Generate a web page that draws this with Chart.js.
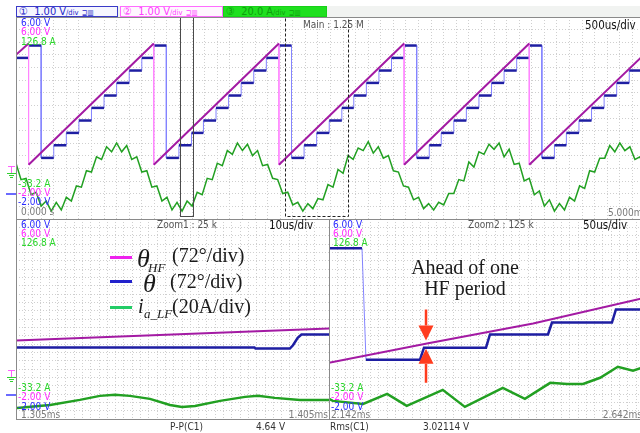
<!DOCTYPE html>
<html>
<head>
<meta charset="utf-8">
<script src="https://cdn.jsdelivr.net/npm/chart.js@4.4.1/dist/chart.umd.min.js"></script>
<style>
  html, body { margin: 0; padding: 0; width: 640px; height: 433px; overflow: hidden; background: #fff; }
  .abs { position: absolute; white-space: nowrap; }
  .osc { font-family: "DejaVu Sans Condensed", "DejaVu Sans", sans-serif; font-stretch: condensed; font-size: 10px; line-height: 10px; }
  .big { font-size: 11.5px; line-height: 12px; color: #111; }
  .b { color: #2a2aff; } .p { color: #ff2aff; } .g { color: #2ad62a; } .k { color: #7a7a7a; }
  .serif { font-family: "Liberation Serif", "DejaVu Serif", serif; color: #1a1a1a; font-size: 20px; line-height: 20px; }
  .it { font-style: italic; }
  canvas { position: absolute; display: block; }
  .frame { position: absolute; box-sizing: border-box; border: 1px solid #8a8a8a; z-index: 3; }
  .hdr { position: absolute; box-sizing: border-box; height: 11px; font-family: "DejaVu Sans Condensed", "DejaVu Sans", sans-serif; font-stretch: condensed; font-size: 11px; line-height: 9px; padding-left: 2px; white-space: nowrap; overflow: hidden; }
  .hdr small { font-size: 7.5px; }
  .mk { position: absolute; }
  .txt { z-index: 4; }
</style>
</head>
<body>

<!-- bandeau des voies -->
<div class="abs" style="left:16px;top:6px;width:624px;height:11px;background:#f1f3f1"></div>
<div class="hdr" style="left:16px;top:6px;width:102px;border:1px solid #3a3ac8;color:#2626c8;background:#f6f6ff">&#9312;&nbsp;&nbsp;1.00 V<small>/div</small> <small>&#8850;&#9637;</small></div>
<div class="hdr" style="left:120px;top:6px;width:103px;border:1px solid #ff6cff;color:#ff40ff;background:#fff6ff">&#9313;&nbsp;&nbsp;1.00 V<small>/div</small> <small>&#8850;&#9637;</small></div>
<div class="hdr" style="left:223px;top:6px;width:104px;border:1px solid #18d018;color:#0e9e0e;background:#1fe01f">&#9314;&nbsp;&nbsp;20.0 A<small>/div</small> <small>&#8850;&#9637;</small></div>

<canvas id="mainChart" width="629" height="202" style="left:16px;top:17px"></canvas>
<canvas id="zoom1Chart" width="313" height="200" style="left:16px;top:219px"></canvas>
<canvas id="zoom2Chart" width="316" height="200" style="left:329px;top:219px"></canvas>

<div class="frame" style="left:16px;top:17px;width:640px;height:203px"></div>
<div class="frame" style="left:16px;top:219px;width:314px;height:201px"></div>
<div class="frame" style="left:329px;top:219px;width:330px;height:201px"></div>

<!-- marqueurs de masse -->
<div class="mk" style="left:8px;top:166px;width:7px;height:1px;background:#ff60ff"></div>
<div class="mk" style="left:11px;top:166px;width:1px;height:7px;background:#ff60ff"></div>
<div class="mk" style="left:7px;top:173px;width:9px;height:1px;background:#30d030"></div>
<div class="mk" style="left:9px;top:175px;width:5px;height:1px;background:#30d030"></div>
<div class="mk" style="left:10px;top:177px;width:3px;height:1px;background:#30d030"></div>
<div class="mk" style="left:6px;top:193px;width:10px;height:2px;background:#6a6aff"></div>
<div class="mk" style="left:8px;top:370px;width:7px;height:1px;background:#ff60ff"></div>
<div class="mk" style="left:11px;top:370px;width:1px;height:7px;background:#ff60ff"></div>
<div class="mk" style="left:7px;top:377px;width:9px;height:1px;background:#30d030"></div>
<div class="mk" style="left:9px;top:379px;width:5px;height:1px;background:#30d030"></div>
<div class="mk" style="left:10px;top:381px;width:3px;height:1px;background:#30d030"></div>
<div class="mk" style="left:6px;top:394px;width:10px;height:2px;background:#6a6aff"></div>

<!-- textes de l'ecran principal -->
<div class="abs osc b txt" style="left:21px;top:18px">6.00 V</div>
<div class="abs osc p txt" style="left:21px;top:27px">6.00 V</div>
<div class="abs osc g txt" style="left:21px;top:37px">126.8 A</div>
<div class="abs osc g txt" style="left:18px;top:179px">-33.2 A</div>
<div class="abs osc p txt" style="left:18px;top:188px">-2.00 V</div>
<div class="abs osc b txt" style="left:18px;top:197px">-2.00 V</div>
<div class="abs osc k txt" style="left:21px;top:207px">0.000 s</div>
<div class="abs osc txt" style="left:303px;top:20px;color:#555">Main : 1.25 M</div>
<div class="abs osc big txt" style="left:585px;top:19px">500us/div</div>
<div class="abs osc k txt" style="left:608px;top:208px">5.000ms</div>

<!-- textes des zooms -->
<div class="abs osc txt" style="left:157px;top:220px;color:#555">Zoom1 : 25 k</div>
<div class="abs osc big txt" style="left:269px;top:219px">10us/div</div>
<div class="abs osc txt" style="left:468px;top:220px;color:#555">Zoom2 : 125 k</div>
<div class="abs osc big txt" style="left:583px;top:219px">50us/div</div>

<div class="abs osc b txt" style="left:21px;top:220px">6.00 V</div>
<div class="abs osc p txt" style="left:21px;top:229px">6.00 V</div>
<div class="abs osc g txt" style="left:21px;top:238px">126.8 A</div>
<div class="abs osc g txt" style="left:18px;top:383px">-33.2 A</div>
<div class="abs osc p txt" style="left:18px;top:392px">-2.00 V</div>
<div class="abs osc b txt" style="left:18px;top:402px">-2.00 V</div>
<div class="abs osc k txt" style="left:21px;top:410px">1.305ms</div>
<div class="abs osc k txt" style="right:312px;top:410px">1.405ms</div>

<div class="abs osc b txt" style="left:333px;top:220px">6.00 V</div>
<div class="abs osc p txt" style="left:333px;top:229px">6.00 V</div>
<div class="abs osc g txt" style="left:333px;top:238px">126.8 A</div>
<div class="abs osc g txt" style="left:331px;top:383px">-33.2 A</div>
<div class="abs osc p txt" style="left:331px;top:392px">-2.00 V</div>
<div class="abs osc b txt" style="left:331px;top:402px">-2.00 V</div>
<div class="abs osc k txt" style="left:331px;top:410px">2.142ms</div>
<div class="abs osc k txt" style="right:-2px;top:410px">2.642ms</div>

<!-- mesures -->
<div class="abs osc txt" style="left:170px;top:422px;color:#333">P-P(C1)</div>
<div class="abs osc txt" style="left:256px;top:422px;color:#333">4.64 V</div>
<div class="abs osc txt" style="left:330px;top:422px;color:#333">Rms(C1)</div>
<div class="abs osc txt" style="left:423px;top:422px;color:#333">3.02114 V</div>

<!-- legende -->
<div class="abs txt" style="left:110px;top:256px;width:22px;height:3px;background:#ee22ee"></div>
<div class="abs serif it txt" style="left:137px;top:246px;font-size:26px;line-height:26px">&theta;</div>
<div class="abs serif it txt" style="left:148px;top:261px;font-size:13px;line-height:14px">HF</div>
<div class="abs serif txt" style="left:172px;top:245px">(72&deg;/div)</div>

<div class="abs txt" style="left:110px;top:280px;width:22px;height:3px;background:#2222cc"></div>
<div class="abs serif it txt" style="left:143px;top:271px;font-size:26px;line-height:26px">&theta;</div>
<div class="abs serif txt" style="left:170px;top:271px">(72&deg;/div)</div>

<div class="abs txt" style="left:110px;top:306px;width:22px;height:3px;background:#22cc66"></div>
<div class="abs serif it txt" style="left:138px;top:296px">i</div>
<div class="abs serif it txt" style="left:144px;top:307px;font-size:13px;line-height:14px">a_LF</div>
<div class="abs serif txt" style="left:172px;top:296px">(20A/div)</div>

<div class="abs serif txt" style="left:395px;top:257px;width:140px;text-align:center">Ahead of one</div>
<div class="abs serif txt" style="left:395px;top:278px;width:140px;text-align:center">HF period</div>

<script>
(function () {
  // ---- ecran principal (0 - 5 ms) ----
  // theta_HF : sommets de la rampe (ms, V)
  const mainPinkT = [0, 0.10, 0.10, 1.095, 1.095, 2.09, 2.09, 3.085, 3.085, 4.08, 4.08, 5.0];
  const mainPinkV = [4.50, 4.95, 0.15, 4.95, 0.15, 4.95, 0.15, 4.95, 0.15, 4.95, 0.15, 4.55];

  // theta : instants des marches et niveau apres chaque marche
  const mainBlueT = [0, 0.10, 0.20, 0.30, 0.40, 0.50, 0.60, 0.70, 0.80, 0.90, 1.00,
    1.095, 1.195, 1.295, 1.395, 1.49, 1.59, 1.69, 1.79, 1.89, 1.99,
    2.09, 2.19, 2.29, 2.39, 2.49, 2.59, 2.685, 2.785, 2.885, 2.985,
    3.085, 3.185, 3.285, 3.38, 3.48, 3.58, 3.68, 3.78, 3.88, 3.98,
    4.08, 4.18, 4.28, 4.375, 4.475, 4.575, 4.675, 4.775, 4.875, 4.975];
  const mainBlueV = [4.38, 4.87, 0.42, 0.92, 1.41, 1.90, 2.40, 2.89, 3.39, 3.88, 4.38,
    4.87, 0.42, 0.92, 1.41, 1.90, 2.40, 2.89, 3.39, 3.88, 4.38,
    4.87, 0.42, 0.92, 1.41, 1.90, 2.40, 2.89, 3.39, 3.88, 4.38,
    4.87, 0.42, 0.92, 1.41, 1.90, 2.40, 2.89, 3.39, 3.88, 4.38,
    4.87, 0.42, 0.92, 1.41, 1.90, 2.40, 2.89, 3.39, 3.88, 4.38];
  const MAIN_END = 5.0;

  // i_a_LF : un point toutes les 0.04 ms (A)
  const CUR_STEP = 0.04;
  const mainCurA = [
    11, -2, -1, -14, -12, -23, -19, -27, -20, -26, -16, -19, -7, -8, 5, 4, 16, 14, 24, 20, 27, 20, 25, 14, 16,
    4, 5, -8, -7, -19, -16, -26, -20, -27, -19, -23, -12, -14, -1, -2, 11, 9, 21, 18, 27, 21, 26, 17, 21, 9,
    10, -1, -2, -13, -12, -22, -20, -27, -21, -25, -17, -18, -6, -8, 6, 3, 17, 14, 23, 21, 28, 19, 24, 15, 17,
    5, 4, -7, -8, -18, -16, -25, -21, -26, -20, -22, -13, -13, -2, -3, 12, 8, 20, 18, 26, 22, 27, 16, 22, 10,
    11, -3, -1, -14, -11, -23, -18, -27, -21, -26, -16, -19, -7, -9, 5, 4, 15, 15, 25, 20, 27, 21, 24, 14, 16,
    4];

  // fenetres de zoom (ms)
  const zoom1Win = [1.305, 1.405];
  const zoom2Win = [2.142, 2.642];

  // ---- Zoom1 (1.305 - 1.405 ms) ----
  const z1PinkT = [1.305, 1.355, 1.405];
  const z1PinkV = [1.14, 1.38, 1.62];
  const z1BlueT = [1.305, 1.3812, 1.3815, 1.3925, 1.3935, 1.3950, 1.3962, 1.405];
  const z1BlueV = [0.86, 0.86, 0.82, 0.82, 0.95, 1.25, 1.38, 1.38];
  const z1CurT = [1.3053, 1.3159, 1.3254, 1.3318, 1.3366, 1.3414, 1.3478, 1.3542, 1.3580, 1.3622, 1.3702, 1.3782, 1.3823, 1.3877, 1.3957, 1.405];
  const z1CurA = [-24.4, -22.0, -17.9, -14.7, -13.9, -14.7, -17.1, -22.0, -23.6, -22.8, -18.7, -15.5, -14.7, -16.3, -17.9, -17.9];

  // ---- Zoom2 (2.142 - 2.642 ms) ----
  const z2PinkT = [2.142, 2.297, 2.465, 2.642];
  const z2PinkV = [0.25, 1.02, 1.82, 2.85];
  const z2BlueT = [2.142, 2.1942, 2.2005, 2.286, 2.2923, 2.3904, 2.3967, 2.4885, 2.4948, 2.5897, 2.596, 2.642];
  const z2BlueV = [4.83, 4.83, 0.37, 0.37, 0.855, 0.855, 1.38, 1.38, 1.86, 1.86, 2.38, 2.38];
  const z2CurT = [2.142, 2.148, 2.196, 2.234, 2.265, 2.322, 2.357, 2.417, 2.452, 2.492, 2.519, 2.544, 2.571, 2.599, 2.623, 2.642];
  const z2CurA = [-17.1, -18.7, -21.1, -13.1, -22.7, -9.9, -23.5, -8.3, -17.1, -4.3, -5.1, -5.1, -0.2, 8.6, 5.4, 8.6];

  // fleches rouges (ms, V)
  const arrowT = 2.2955;
  const arrowDown = [2.38, 1.14];
  const arrowUp = [-0.55, 0.81];

  const PINK = '#a31aa3', PINK_LIGHT = '#ff86ff';
  const BLUE = '#1e1ea2', BLUE_LIGHT = '#8484ff';
  const GREEN = '#22a022';
  const GRID = '#cfcfcf';
  const RED = '#ff3c1e';

  function pts(ts, vs) {
    return ts.map((t, i) => ({ x: t, y: vs[i] }));
  }

  function steps(ts, vs, tEnd) {
    const out = [];
    ts.forEach((t, i) => {
      if (i > 0) out.push({ x: t, y: vs[i - 1] });
      out.push({ x: t, y: vs[i] });
    });
    out.push({ x: tEnd, y: vs[vs.length - 1] });
    return out;
  }

  // segments quasi verticaux = traces fins et clairs
  function isJump(c) {
    const dx = c.p1.parsed.x - c.p0.parsed.x;
    const dy = c.p1.parsed.y - c.p0.parsed.y;
    return dx === 0 || Math.abs(dy / dx) > 300;
  }

  function traceSet(data, color, light, width) {
    return [
      { data, borderColor: color, borderWidth: width, pointRadius: 0, tension: 0, yAxisID: 'y',
        segment: { borderColor: c => isJump(c) ? 'transparent' : color } },
      { data, borderColor: light, borderWidth: 1, pointRadius: 0, tension: 0, yAxisID: 'y',
        segment: { borderColor: c => isJump(c) ? light : 'transparent' } }
    ];
  }

  function current(data, width) {
    return { data, borderColor: GREEN, borderWidth: width, pointRadius: 0, tension: 0, yAxisID: 'yA' };
  }

  function oscChart(id, xMin, xMax, gridX, gridY, datasets, plugins) {
    const cv = document.getElementById(id);
    const gridAxis = (pos, max, step) => ({
      type: 'linear', position: pos, min: 0, max: max, reverse: pos === 'left',
      ticks: { display: false, stepSize: step },
      grid: { color: GRID, lineWidth: 1, drawTicks: false },
      border: { display: false, dash: [1, 2] },
      afterFit: s => { if (pos === 'left') s.width = 0; else s.height = 0; }
    });
    return new Chart(cv, {
      type: 'line',
      data: { datasets },
      options: {
        responsive: false,
        animation: false,
        devicePixelRatio: 1,
        layout: { padding: 0 },
        plugins: { legend: { display: false }, tooltip: { enabled: false } },
        scales: {
          x: { type: 'linear', min: xMin, max: xMax, display: false },
          y: { type: 'linear', min: -2, max: 6, display: false },
          yA: { type: 'linear', min: -33.2, max: 126.8, display: false },
          gx: gridAxis('bottom', cv.width, gridX),
          gy: gridAxis('left', cv.height, gridY)
        }
      },
      plugins: plugins || []
    });
  }

  // cadres des fenetres de zoom sur l'ecran principal
  const zoomBoxes = {
    id: 'zoomBoxes',
    afterDatasetsDraw(chart) {
      const { ctx, chartArea: a, scales: { x } } = chart;
      const box = (win, dash, color) => {
        const x0 = Math.round(x.getPixelForValue(win[0])) + 0.5;
        const x1 = Math.round(x.getPixelForValue(win[1])) + 0.5;
        ctx.setLineDash(dash);
        ctx.strokeStyle = color;
        ctx.strokeRect(x0, a.top + 0.5, x1 - x0, a.bottom - a.top - 3);
      };
      ctx.save();
      ctx.lineWidth = 1;
      box(zoom1Win, [], '#4a4a4a');
      box(zoom2Win, [3, 2], '#222');
      ctx.restore();
    }
  };

  function drawArrow(ctx, x, yFrom, yTo) {
    const dir = Math.sign(yTo - yFrom);
    const head = 15;
    ctx.strokeStyle = RED;
    ctx.fillStyle = RED;
    ctx.lineWidth = 2.5;
    ctx.beginPath();
    ctx.moveTo(x, yFrom);
    ctx.lineTo(x, yTo - dir * head);
    ctx.stroke();
    ctx.beginPath();
    ctx.moveTo(x - 7.5, yTo - dir * head);
    ctx.lineTo(x + 7.5, yTo - dir * head);
    ctx.lineTo(x, yTo);
    ctx.closePath();
    ctx.fill();
  }

  const arrows = {
    id: 'arrows',
    afterDatasetsDraw(chart) {
      const { ctx, scales: { x, y } } = chart;
      const px = x.getPixelForValue(arrowT);
      ctx.save();
      drawArrow(ctx, px, y.getPixelForValue(arrowDown[0]), y.getPixelForValue(arrowDown[1]));
      drawArrow(ctx, px, y.getPixelForValue(arrowUp[0]), y.getPixelForValue(arrowUp[1]));
      ctx.restore();
    }
  };

  const mainCur = mainCurA.map((a, i) => ({ x: i * CUR_STEP, y: a }));

  oscChart('mainChart', 0, MAIN_END, 629 / 50, 202 / 16, [
    ...traceSet(pts(mainPinkT, mainPinkV), PINK, PINK_LIGHT, 2),
    ...traceSet(steps(mainBlueT, mainBlueV, MAIN_END), BLUE, BLUE_LIGHT, 2.5),
    current(mainCur, 1.5)
  ], [zoomBoxes]);

  oscChart('zoom1Chart', zoom1Win[0], zoom1Win[1], 8.3, 200 / 24, [
    ...traceSet(pts(z1PinkT, z1PinkV), PINK, PINK_LIGHT, 2),
    ...traceSet(pts(z1BlueT, z1BlueV), BLUE, BLUE_LIGHT, 2.5),
    current(pts(z1CurT, z1CurA), 2.5)
  ]);

  oscChart('zoom2Chart', zoom2Win[0], zoom2Win[1], 8.3, 200 / 24, [
    ...traceSet(pts(z2PinkT, z2PinkV), PINK, PINK_LIGHT, 2),
    ...traceSet(pts(z2BlueT, z2BlueV), BLUE, BLUE_LIGHT, 2.5),
    current(pts(z2CurT, z2CurA), 2.5)
  ], [arrows]);
})();
</script>
</body>
</html>
